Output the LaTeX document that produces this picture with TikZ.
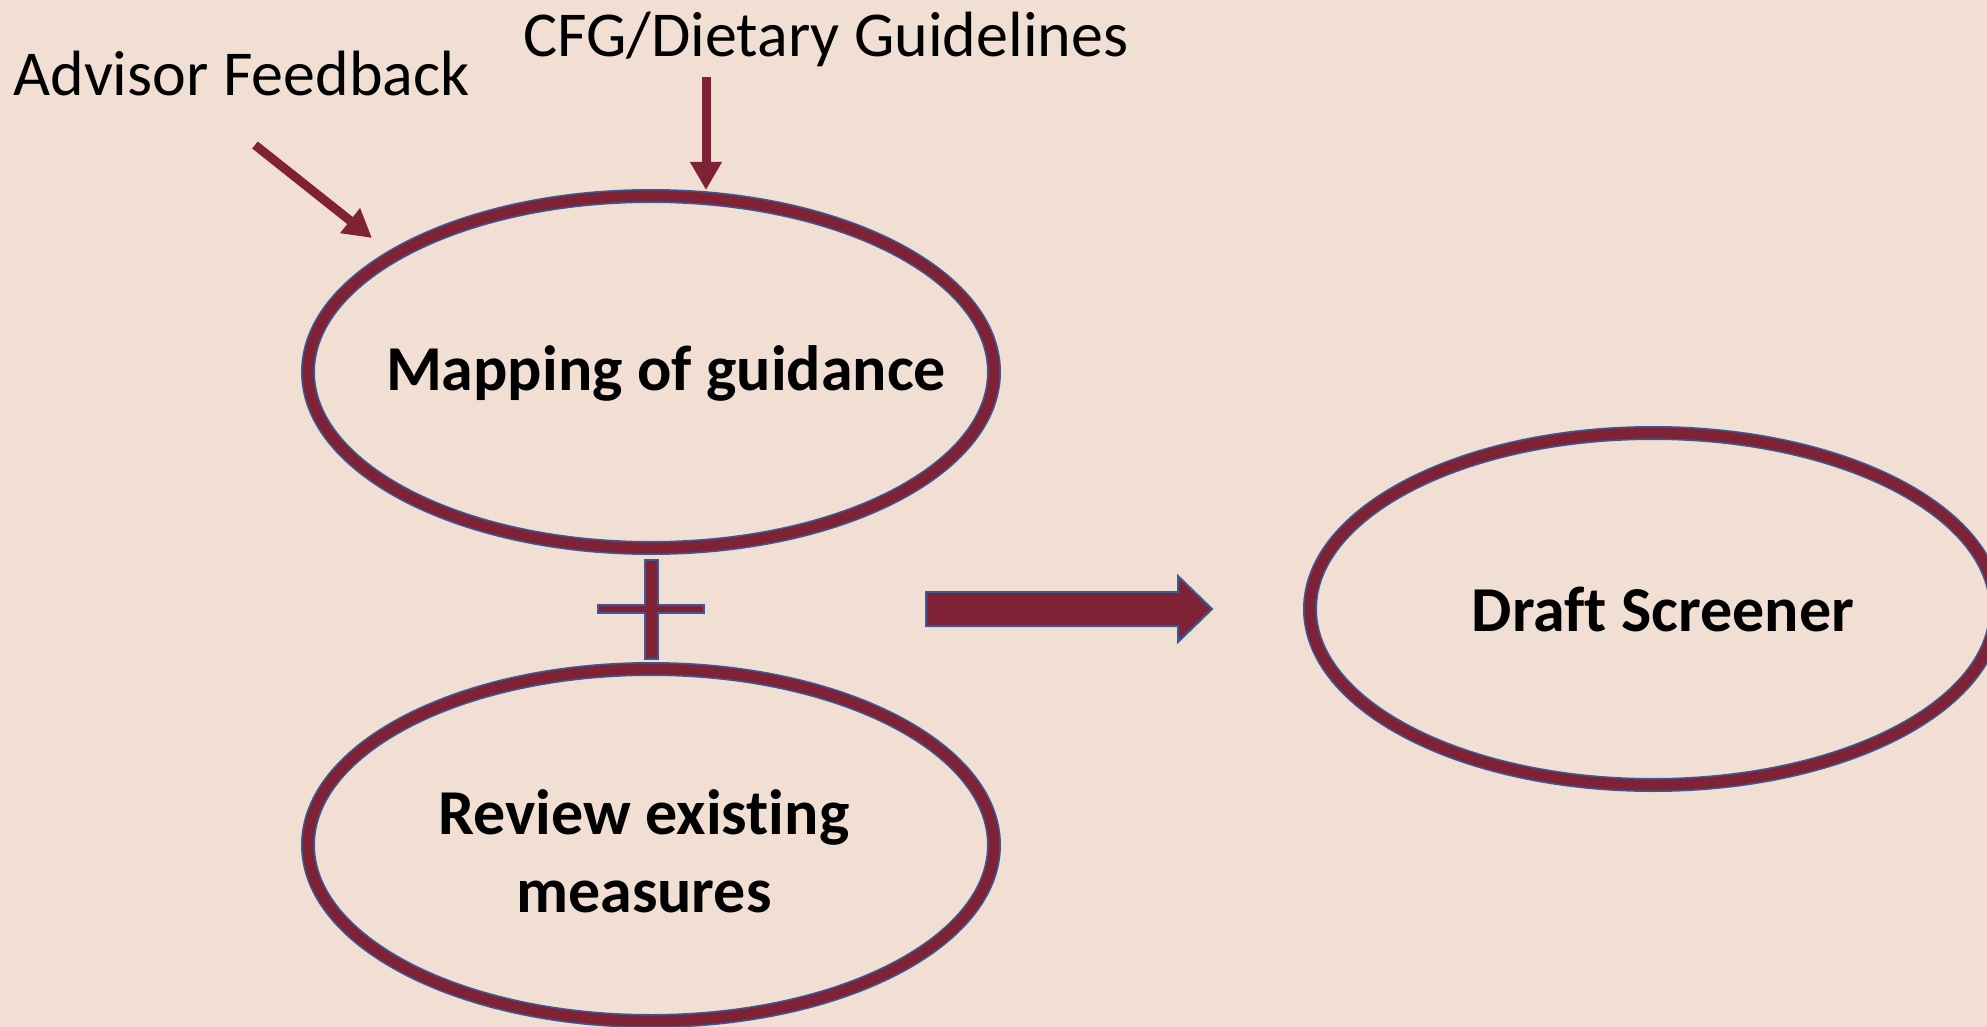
\documentclass[tikz,border=0pt]{standalone}
\usepackage{fontspec}
\setmainfont{Carlito}[Ligatures={NoCommon}]
\usetikzlibrary{shapes.geometric,arrows.meta}
\definecolor{paper}{RGB}{240,223,210}
\definecolor{wine}{RGB}{127,34,54}
\definecolor{edgeblue}{RGB}{58,90,150}

\begin{document}
\begin{tikzpicture}[x=0.5pt,y=0.5pt,yscale=-1,xscale=1,
    ring/.style={ellipse,draw=edgeblue,double=wine,double distance=5.4pt,line width=0.8pt,inner sep=0pt,minimum width=343pt,minimum height=176pt},
    tag/.style={font=\fontsize{32}{39}\selectfont,inner sep=0pt},
    boldtag/.style={font=\fontsize{32}{39}\selectfont\bfseries,inner sep=0pt,align=center},
    feed/.style={draw=wine,line width=4.5pt,-{Triangle[width=15pt,length=14pt]}},
    block/.style={fill=wine,draw=edgeblue,line width=1pt}]
        %set diagram size to the slide
        \clip (0,0) rectangle (1987,1027);
        \fill [paper] (0,0) rectangle (1987,1027);

        %Shape: Ellipse [id:map]
        \node [ring] (map) at (651,372) {};
        %Shape: Ellipse [id:rev]
        \node [ring] (rev) at (651,845) {};
        %Shape: Ellipse [id:draft]
        \node [ring] (draft) at (1653,609) {};

        %Text
        \node [tag,anchor=base west] (advfb) at (13,96) {Advisor Feedback};
        \node [tag,anchor=base west] (cfg) at (523,57) {CFG/Dietary Guidelines};
        \node [boldtag,anchor=base] (maptxt) at (666,390) {Mapping of guidance};
        \node [boldtag,anchor=base] (revtxt) at (644,912) {Review existing\\measures};
        \node [boldtag,anchor=base] (drafttxt) at (1663,631) {Draft Screener};

        %Straight Lines [id:feedback]
        \coordinate (fbstart) at (255,145);
        \coordinate (fbtip) at (372,238);
        \draw [feed] (fbstart) -- (fbtip);
        %Straight Lines [id:guidelines]
        \coordinate (cfgstart) at (706,77);
        \coordinate (cfgtip) at (706,190);
        \draw [feed] (cfgstart) -- (cfgtip);

        %Shape: Plus
        \draw [block] (645,560) -- (658,560) -- (658,605) -- (704,605) -- (704,613) -- (658,613) -- (658,659) -- (645,659) -- (645,613) -- (598,613) -- (598,605) -- (645,605) -- cycle ;
        %Shape: Right Arrow
        \draw [block] (926,592) -- (1178,592) -- (1178,576) -- (1212,609) -- (1178,642) -- (1178,626) -- (926,626) -- cycle ;

    \end{tikzpicture}
\end{document}
